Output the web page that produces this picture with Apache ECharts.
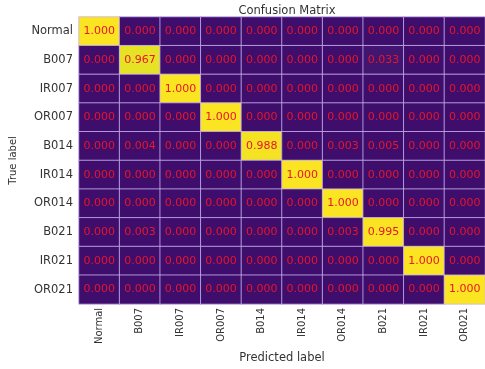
<!DOCTYPE html>
<html>
<head>
<meta charset="utf-8">
<script src="https://cdn.jsdelivr.net/npm/echarts@6/dist/echarts.min.js"></script>
<style>
  html, body { margin: 0; padding: 0; background: #fff; }
  #chart { width: 485px; height: 369px; }
</style>
</head>
<body>
<div id="chart"></div>
<script>
// Class names used for both axes (true label rows, predicted label columns)
const classes = ['Normal', 'B007', 'IR007', 'OR007', 'B014', 'IR014', 'OR014', 'B021', 'IR021', 'OR021'];

// Normalised confusion matrix, one row per true label
const rowNormal = [1.000, 0.000, 0.000, 0.000, 0.000, 0.000, 0.000, 0.000, 0.000, 0.000];
const rowB007   = [0.000, 0.967, 0.000, 0.000, 0.000, 0.000, 0.000, 0.033, 0.000, 0.000];
const rowIR007  = [0.000, 0.000, 1.000, 0.000, 0.000, 0.000, 0.000, 0.000, 0.000, 0.000];
const rowOR007  = [0.000, 0.000, 0.000, 1.000, 0.000, 0.000, 0.000, 0.000, 0.000, 0.000];
const rowB014   = [0.000, 0.004, 0.000, 0.000, 0.988, 0.000, 0.003, 0.005, 0.000, 0.000];
const rowIR014  = [0.000, 0.000, 0.000, 0.000, 0.000, 1.000, 0.000, 0.000, 0.000, 0.000];
const rowOR014  = [0.000, 0.000, 0.000, 0.000, 0.000, 0.000, 1.000, 0.000, 0.000, 0.000];
const rowB021   = [0.000, 0.003, 0.000, 0.000, 0.000, 0.000, 0.003, 0.995, 0.000, 0.000];
const rowIR021  = [0.000, 0.000, 0.000, 0.000, 0.000, 0.000, 0.000, 0.000, 1.000, 0.000];
const rowOR021  = [0.000, 0.000, 0.000, 0.000, 0.000, 0.000, 0.000, 0.000, 0.000, 1.000];

const matrix = [rowNormal, rowB007, rowIR007, rowOR007, rowB014, rowIR014, rowOR014, rowB021, rowIR021, rowOR021];

// Viridis-style colour ramp (low end slightly bluer)
const viridis = ['#3f0d6c', '#482878', '#3e4989', '#31688e', '#26828e', '#1f9e89', '#35b779', '#6ece58', '#b5de2b', '#fbe422'];

const cells = [];
matrix.forEach((row, r) => {
  row.forEach((v, c) => cells.push([c, r, v]));
});

const font = 'DejaVu Sans';
const chart = echarts.init(document.getElementById('chart'), null, { renderer: 'canvas' });

chart.setOption({
  animation: false,
  backgroundColor: '#ffffff',
  title: {
    text: 'Confusion Matrix',
    left: 282,
    top: 0,
    textAlign: 'center',
    textStyle: { fontFamily: font, fontSize: 11.5, fontWeight: 'normal', color: '#333' }
  },
  grid: { left: 78, top: 17, width: 409, height: 303 },
  xAxis: {
    type: 'category',
    data: classes,
    name: 'Predicted label',
    nameLocation: 'middle',
    nameGap: 43,
    nameTextStyle: { fontFamily: font, fontSize: 11.5, color: '#333' },
    axisLine: { show: false },
    axisTick: { show: false },
    splitLine: { show: false },
    axisLabel: { rotate: 90, margin: 4, fontFamily: font, fontSize: 10, color: '#333' }
  },
  yAxis: {
    type: 'category',
    data: classes,
    inverse: true,
    name: 'True label',
    nameLocation: 'middle',
    nameRotate: 90,
    nameGap: 61,
    nameTextStyle: { fontFamily: font, fontSize: 10, color: '#333' },
    axisLine: { show: false },
    axisTick: { show: false },
    splitLine: { show: false },
    axisLabel: { margin: 6, fontFamily: font, fontSize: 11.5, color: '#333' }
  },
  visualMap: {
    show: false,
    min: 0,
    max: 1,
    calculable: false,
    inRange: { color: viridis }
  },
  series: [{
    type: 'heatmap',
    data: cells,
    itemStyle: { borderColor: 'rgba(200,180,240,0.8)', borderWidth: 1 },
    label: {
      show: true,
      fontFamily: font,
      fontSize: 11,
      color: '#e8162a',
      formatter: p => p.value[2].toFixed(3)
    },
    emphasis: { disabled: true }
  }]
});
</script>
</body>
</html>
